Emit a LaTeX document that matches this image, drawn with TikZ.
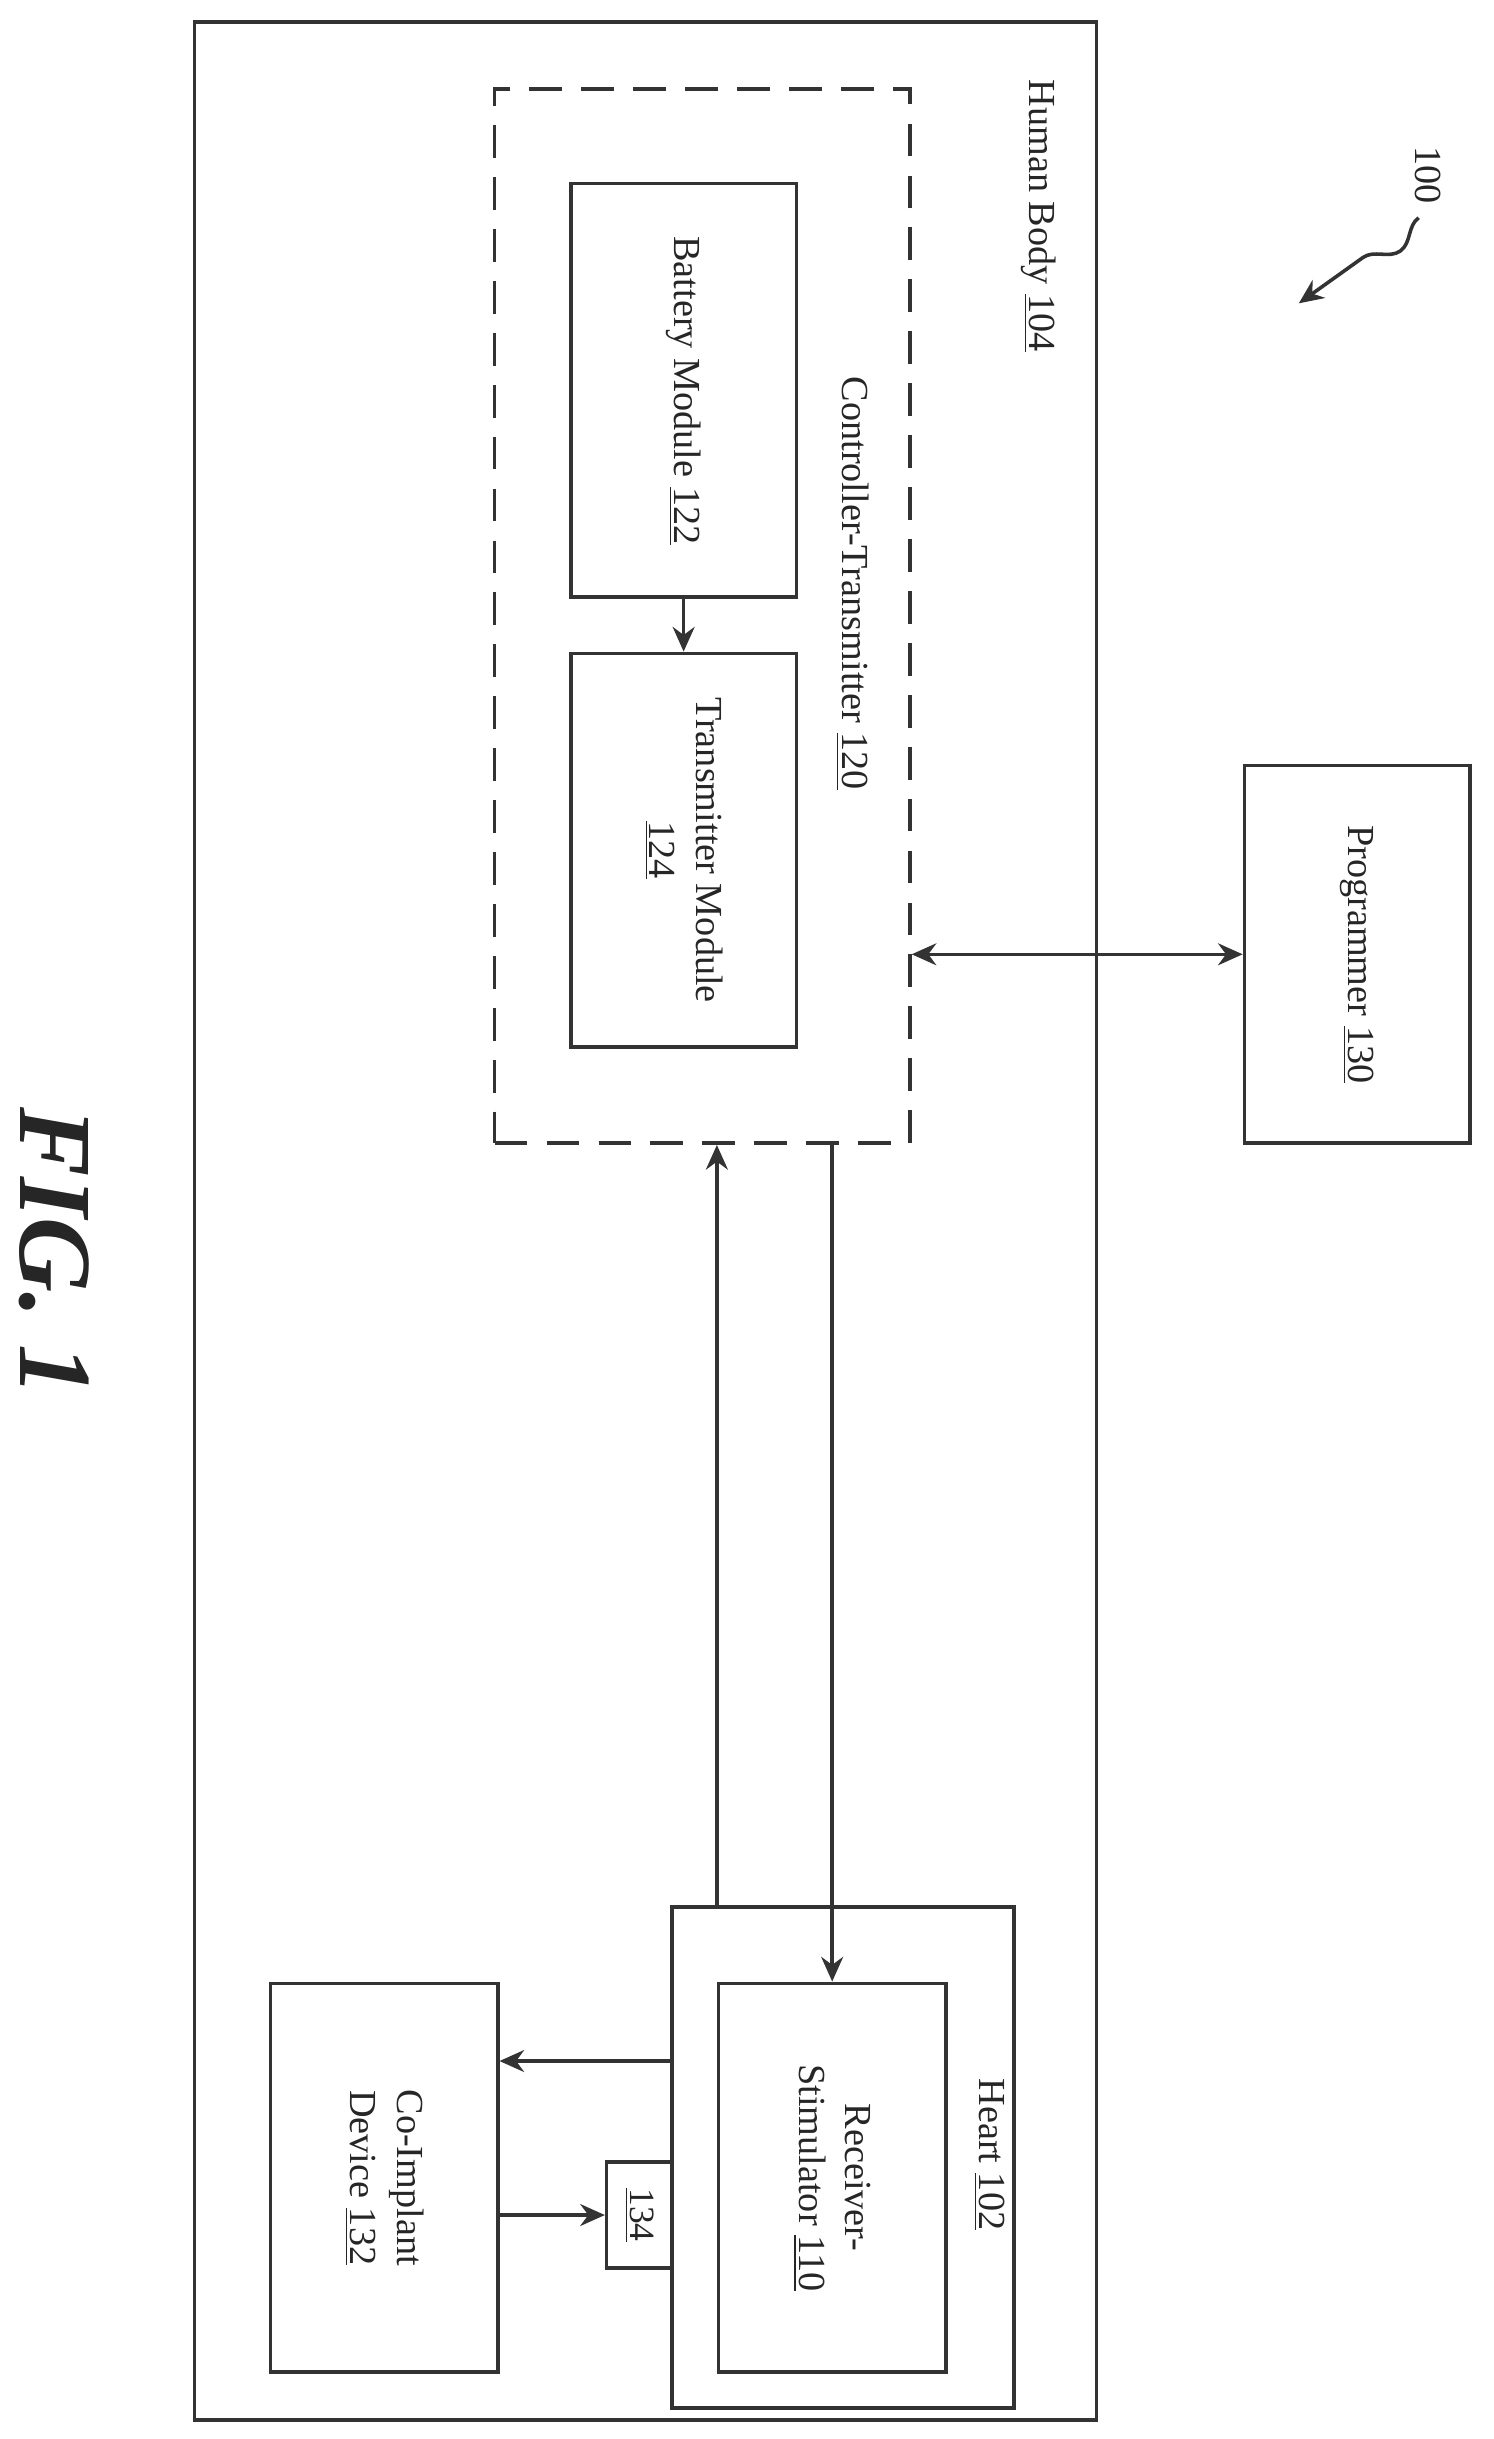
\documentclass[tikz,border=0pt]{standalone}
\usepackage{fontspec}
\setmainfont{Liberation Serif}
\usetikzlibrary{arrows.meta,decorations.pathmorphing}
\begin{document}
\begin{tikzpicture}[x=0.02cm,y=-0.02cm,
  box/.style={draw=black!80,line width=1.3pt,rectangle,inner sep=0pt},
  lbl/.style={rotate=-90,font=\fontsize{14}{17}\selectfont,align=center,text=black!85},
  arr/.style={draw=black!80,line width=1.3pt,-{Stealth[length=9pt,width=8pt]}},
  arr2/.style={draw=black!80,line width=1.3pt,{Stealth[length=9pt,width=8pt]}-{Stealth[length=9pt,width=8pt]}}]
\useasboundingbox (0,0) rectangle (960,1568);
\node[box,minimum width=11.6cm,minimum height=30.84cm] (hb) at (415,785) {};
\node[box,dashed,dash pattern=on 12pt off 7pt,minimum width=5.34cm,minimum height=13.56cm] (ct) at (451.5,396) {};
\node[box,minimum width=2.9cm,minimum height=5.32cm] (bm) at (439.5,251) {};
\node[box,minimum width=2.9cm,minimum height=5.06cm] (tm) at (439.5,546.5) {};
\node[box,minimum width=2.9cm,minimum height=4.86cm] (pg) at (872.5,613.5) {};
\node[box,minimum width=4.4cm,minimum height=6.44cm] (ht) at (542,1387) {};
\node[box,minimum width=2.92cm,minimum height=5.0cm] (rs) at (535,1400) {};
\node[box,minimum width=2.92cm,minimum height=5.0cm] (co) at (247,1400) {};
\node[box,minimum width=0.84cm,minimum height=1.36cm] (b134) at (411,1424) {};

\node[lbl,anchor=west] (thb) at (668,45) {Human Body \underline{104}};
\node[lbl] (tct) at (548,375) {Controller-Transmitter \underline{120}};
\node[lbl] (tbm) at (439.5,251) {Battery Module \underline{122}};
\node[lbl] (ttm) at (439.5,546.5) {Transmitter Module\\\underline{124}};
\node[lbl] (tpg) at (872.5,613.5) {Programmer \underline{130}};
\node[lbl] (tht) at (636,1385) {Heart \underline{102}};
\node[lbl] (trs) at (535,1400) {Receiver-\\Stimulator \underline{110}};
\node[lbl] (tco) at (247,1400) {Co-Implant\\Device \underline{132}};
\node[lbl,font=\fontsize{13}{15}\selectfont] (t134) at (411,1424) {\underline{134}};
\node[rotate=-90,font=\bfseries\itshape\fontsize{38}{40}\selectfont,text=black!85] (fig) at (35,805) {FIG. 1};
\node[lbl,anchor=west] (t100) at (918,88) {100};

\coordinate (s1) at (912,140);
\coordinate (s2) at (835,195);
\draw[arr,decorate,decoration={snake,amplitude=6pt,segment length=40pt,post length=14pt}] (s1) -- (s2);

\draw[arr] (bm.south) -- (tm.north);
\draw[arr2] (ct.east |- pg.west) -- (pg.west);
\draw[arr] (ht.north -| rs.west) -- (rs.west |- ct.south);
\draw[arr] (ct.south -| rs.north) -- (rs.north);
\coordinate (h1) at (432,1325);
\draw[arr] (h1) -- (co.east |- h1);
\draw[arr] (co.east |- b134.west) -- (b134.west);
\end{tikzpicture}
\end{document}
